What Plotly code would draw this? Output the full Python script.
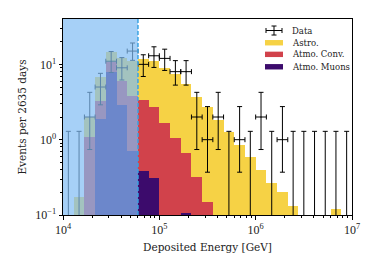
import numpy as np
import plotly.graph_objects as go

# ---- data ----
n_bins = 27
bin_edges = [10 ** (4 + k / 9) for k in range(n_bins + 1)]

muons = [0, 0, 0, 1.89, 7.8, 2.9, 0.70, 0.38, 0.31, 0, 0, 0.106, 0, 0,
         0, 0, 0, 0, 0, 0, 0, 0, 0, 0, 0, 0, 0]
conv_top = [0, 0, 1.08, 3.30, 10.6, 6.08, 3.85, 3.38, 2.69, 1.65, 1.05, 0.66, 0.32, 0.149,
            0, 0, 0, 0, 0, 0, 0, 0, 0, 0, 0, 0, 0]
astro_top = [0, 0.173, 1.99, 6.87, 14.7, 12.0, 11.2, 11.8, 11.2, 8.9, 7.5, 5.5, 3.66, 2.7,
             1.8, 1.26, 0.86, 0.59, 0.40, 0.27, 0.20, 0.13, 0, 0, 0, 0.12, 0]

data_counts = [0, 0, 2, 5, 11, 9, 15, 10, 13, 12, 8, 8, 2, 1, 2, 0, 1, 0, 2, 0, 1, 0, 0, 0, 0, 0, 0]
data_lo = [0, 0, 0.74, 2.9, 7.8, 6.2, 11.3, 6.9, 9.1, 8.3, 5.3, 5.3, 0.74, 0.37, 0.74, 0, 0.37, 0,
           0.74, 0, 0.37, 0, 0, 0, 0, 0, 0]
data_hi = [1.29, 1.29, 4.25, 7.6, 14.8, 12.3, 19.2, 13.4, 17.1, 15.9, 11.2, 11.2, 4.25, 2.75, 4.25,
           1.29, 2.75, 1.29, 4.25, 1.29, 2.75, 1.29, 1.29, 1.29, 1.29, 1.29, 1.29]

threshold = 6e4
x_ticks = [1e4, 1e5, 1e6, 1e7]
x_ticktext = ["10<sup>4</sup>", "10<sup>5</sup>", "10<sup>6</sup>", "10<sup>7</sup>"]
y_ticks = [0.1, 1, 10]
y_ticktext = ["10<sup>−1</sup>", "10<sup>0</sup>", "10<sup>1</sup>"]
legend_labels = ["Data", "Astro.", "Atmo. Conv.", "Atmo. Muons"]

C_ASTRO = "#f6d245"
C_CONV = "#d1424b"
C_MUON = "#3c0b6c"
FONT = "Liberation Serif"
FONT2 = "DejaVu Serif"

lo_e = np.array(bin_edges[:-1])
hi_e = np.array(bin_edges[1:])
centers = np.sqrt(lo_e * hi_e)
widths = hi_e - lo_e

muon_v = np.array(muons)
conv_v = np.clip(np.array(conv_top) - muon_v, 0, None)
conv_v[np.array(conv_top) == 0] = 0
astro_v = np.clip(np.array(astro_top) - np.maximum(np.array(conv_top), muon_v), 0, None)

fig = go.Figure()
for vals, col, name in [(muon_v, C_MUON, "Atmo. Muons"), (conv_v, C_CONV, "Atmo. Conv."),
                        (astro_v, C_ASTRO, "Astro.")]:
    fig.add_trace(go.Bar(x=lo_e, y=vals, width=widths, offset=0, marker=dict(color=col, line=dict(width=0)),
                         name=name, showlegend=False))

cnt = np.array(data_counts, dtype=float)
dlo = np.array(data_lo)
dhi = np.array(data_hi)
nz = cnt > 0
fig.add_trace(go.Scatter(
    x=centers[nz], y=cnt[nz], mode="markers", marker=dict(size=1, color="black"),
    error_y=dict(type="data", symmetric=False, array=(dhi - cnt)[nz], arrayminus=(cnt - dlo)[nz],
                 color="black", thickness=1, width=2.5),
    error_x=dict(type="data", symmetric=False, array=(hi_e - centers)[nz], arrayminus=(centers - lo_e)[nz],
                 color="black", thickness=1, width=2.5),
    showlegend=False))
z = ~nz
base_y = 0.02
fig.add_trace(go.Scatter(
    x=centers[z], y=np.full(z.sum(), base_y), mode="markers", marker=dict(size=1, color="black"),
    error_y=dict(type="data", symmetric=False, array=dhi[z] - base_y, arrayminus=np.zeros(z.sum()),
                 color="black", thickness=1, width=2.5),
    showlegend=False))

# shaded region below threshold + dashed line
fig.add_shape(type="rect", xref="x", yref="paper", x0=bin_edges[0], x1=threshold, y0=0, y1=1,
              fillcolor="rgba(128,188,243,0.7)", line=dict(width=0), layer="above")
fig.add_shape(type="line", xref="x", yref="paper", x0=threshold, x1=threshold, y0=0, y1=1,
              line=dict(color="#3aa3e3", width=1.5, dash="4px,2px"), layer="above")

# manual legend (pixel positions converted to plot-area fractions)
L, R, T, B = 63, 352, 19, 214.7
def px(x):
    return (x - L) / (R - L)
def py(y):
    return (B - y) / (B - T)

rows_y = [30.5, 42.7, 54.3, 66.7]
sw_x0, sw_x1, txt_x = 265, 283, 290
# data symbol
cy = rows_y[0]
fig.add_shape(type="line", xref="paper", yref="paper", x0=px(sw_x0 + 1), x1=px(sw_x1 - 1), y0=py(cy), y1=py(cy),
              line=dict(color="black", width=1))
fig.add_shape(type="line", xref="paper", yref="paper", x0=px(274), x1=px(274), y0=py(cy - 4.5), y1=py(cy + 4.5),
              line=dict(color="black", width=1))
for yy in (cy - 4.5, cy + 4.5):
    fig.add_shape(type="line", xref="paper", yref="paper", x0=px(271.5), x1=px(276.5), y0=py(yy), y1=py(yy),
                  line=dict(color="black", width=1))
for xx in (sw_x0 + 1, sw_x1 - 1):
    fig.add_shape(type="line", xref="paper", yref="paper", x0=px(xx), x1=px(xx), y0=py(cy - 2.5), y1=py(cy + 2.5),
                  line=dict(color="black", width=1))
for col, yy in zip([C_ASTRO, C_CONV, C_MUON], rows_y[1:]):
    fig.add_shape(type="rect", xref="paper", yref="paper", x0=px(sw_x0), x1=px(sw_x1), y0=py(yy + 2.7),
                  y1=py(yy - 2.7), fillcolor=col, line=dict(width=0))
for lab, yy in zip(legend_labels, rows_y):
    fig.add_annotation(xref="paper", yref="paper", x=px(txt_x), y=py(yy), text=lab, showarrow=False,
                       xanchor="left", yanchor="middle", font=dict(family=FONT2, size=8.5, color="#222"))

minor_x = [m * 10 ** e for e in range(4, 7) for m in range(2, 10)]
minor_y = [m * 10.0 ** e for e in range(-1, 2) for m in range(2, 10) if m * 10.0 ** e < 40]

fig.update_layout(
    width=374, height=267, margin=dict(l=L, r=374 - R, t=T, b=267 - B),
    paper_bgcolor="white", plot_bgcolor="white", barmode="stack", bargap=0,
    font=dict(family=FONT, size=11, color="black"), showlegend=False,
    xaxis=dict(type="log", range=[4, 7], showline=True, linecolor="black", linewidth=1, mirror=True,
               ticks="outside", ticklen=3.5, tickwidth=0.8, tickcolor="black", automargin=False,
               tickvals=x_ticks, ticktext=x_ticktext, showgrid=False, zeroline=False,
               tickfont=dict(family=FONT, size=12, color="#222"),
               minor=dict(ticks="outside", ticklen=2.2, tickwidth=0.7, tickcolor="black", tickvals=minor_x, showgrid=False),
               title=dict(text="Deposited Energy [GeV]", font=dict(family=FONT2, size=10.5, color="#222"), standoff=7)),
    yaxis=dict(type="log", range=[-1, np.log10(40)], showline=True, linecolor="black", linewidth=1, mirror=True,
               ticks="outside", ticklen=3.5, tickwidth=0.8, tickcolor="black", automargin=False,
               tickvals=y_ticks, ticktext=y_ticktext, showgrid=False, zeroline=False,
               tickfont=dict(family=FONT, size=12, color="#222"),
               minor=dict(ticks="outside", ticklen=2.2, tickwidth=0.7, tickcolor="black", tickvals=minor_y, showgrid=False),
               title=dict(text="Events per 2635 days", font=dict(family=FONT2, size=10.5, color="#222"), standoff=6)),
)

fig.write_html("out.html", config={"displayModeBar": False},
               post_script="document.body.style.margin='0px';document.body.style.overflow='hidden';")
